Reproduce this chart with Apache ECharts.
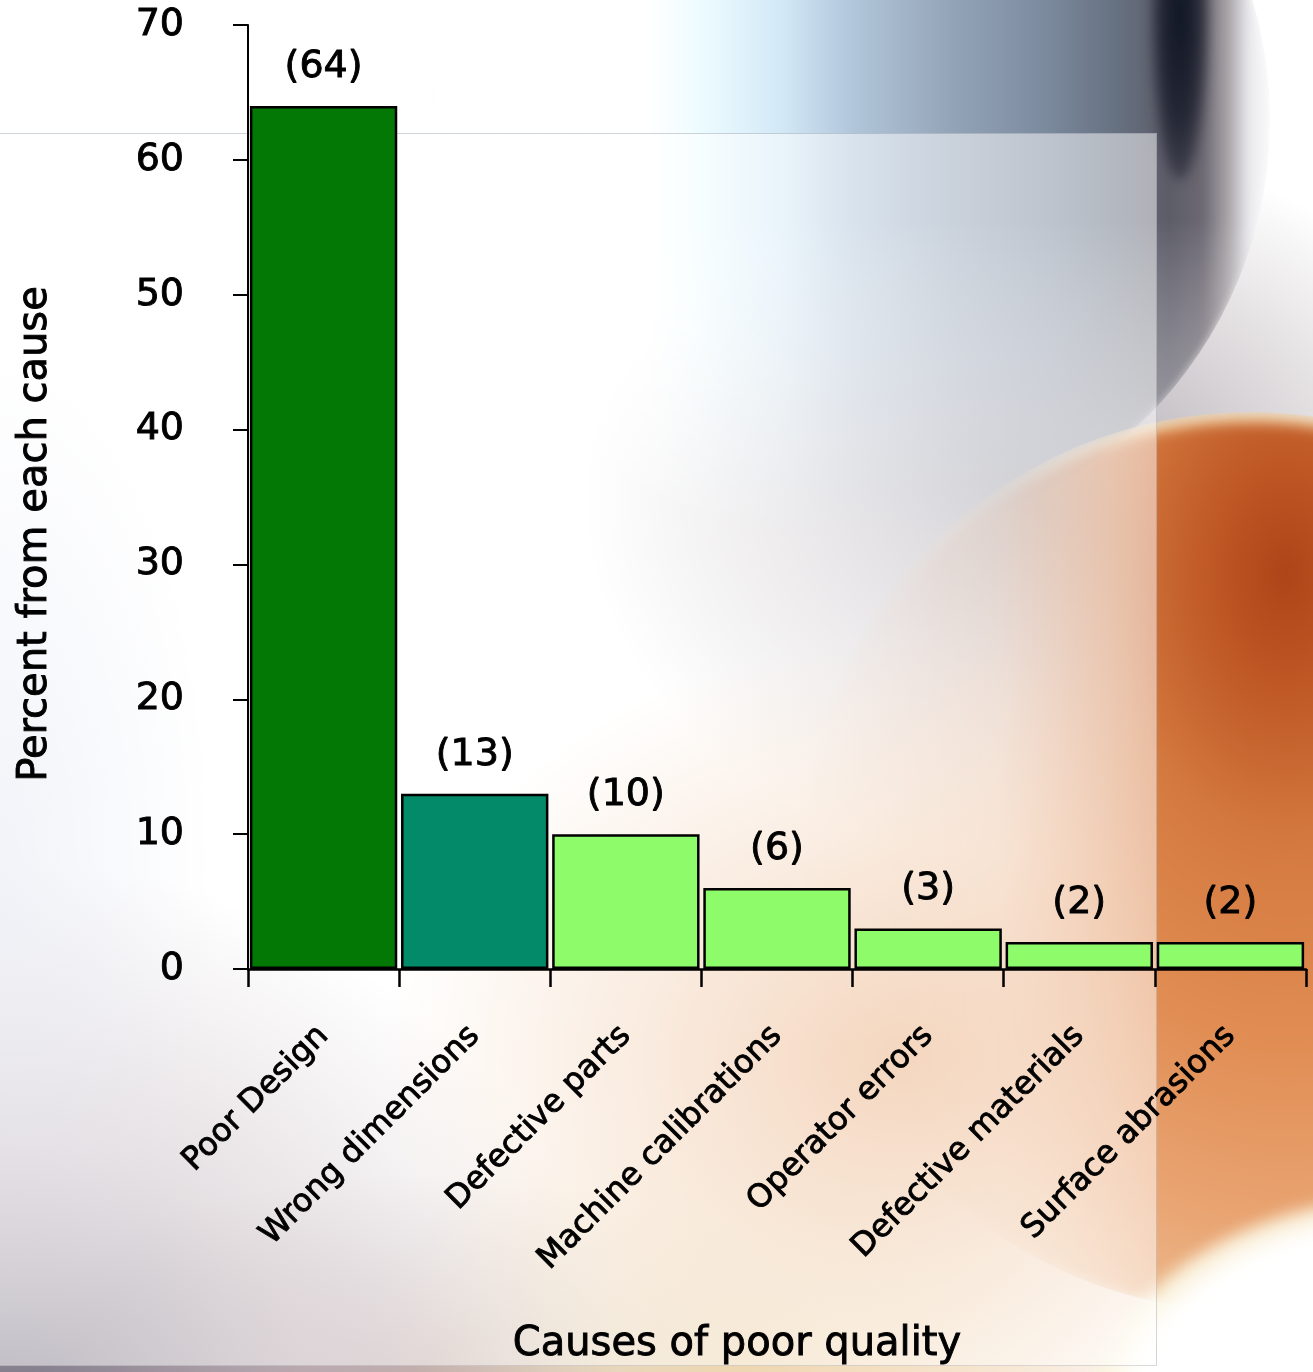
<!DOCTYPE html>
<html>
<head>
<meta charset="utf-8">
<title>Causes of poor quality</title>
<script src="https://cdn.jsdelivr.net/npm/echarts@6/dist/echarts.min.js"></script>
<style>
  html, body { margin: 0; padding: 0; background: #fff; }
  #stage { position: relative; width: 1313px; height: 1372px; overflow: hidden; }
  #bg { position: absolute; left: 0; top: 0; width: 1313px; height: 1372px; overflow: hidden; background: #fff; }
  #bg div { position: absolute; }
  .shade {
    left: 0; top: 0; width: 1313px; height: 1372px;
    background:
      radial-gradient(ellipse 220px 520px at 0px 860px, rgba(205,212,232,0.55) 0%, rgba(255,255,255,0) 100%),
      radial-gradient(ellipse 620px 560px at 0px 1420px, rgba(110,104,122,0.95) 0%, rgba(160,140,150,0.55) 50%, rgba(255,255,255,0) 100%),
      radial-gradient(ellipse 460px 360px at 1040px 500px, rgba(140,134,144,0.75) 0%, rgba(175,166,172,0.45) 55%, rgba(255,255,255,0) 100%),
      radial-gradient(ellipse 420px 200px at 420px 1372px, rgba(170,140,140,0.6) 0%, rgba(220,200,200,0) 100%);
  }
  .sphere {
    left: 430px; top: -300px; width: 840px; height: 840px; border-radius: 50%;
    background: linear-gradient(90deg,
      rgba(255,255,255,0) 0%, #ffffff 26%, #eefcff 32%, #d2e8f6 42%, #b2c7db 50%,
      #94a4b8 62%, #7a889c 74%, #66707f 82%, #5c5c68 88%, #6c6872 92%,
      #a8a4a8 95%, #ececef 97.6%, #f8f8f9 100%);
    -webkit-mask-image: linear-gradient(180deg, #000 0%, #000 62%, rgba(0,0,0,0.55) 82%, rgba(0,0,0,0) 100%);
    mask-image: linear-gradient(180deg, #000 0%, #000 62%, rgba(0,0,0,0.55) 82%, rgba(0,0,0,0) 100%);
    filter: blur(4px);
  }
  .rim {
    left: 430px; top: -300px; width: 840px; height: 840px; border-radius: 50%;
    background: radial-gradient(circle at 50% 50%, rgba(0,0,0,0) 0%, rgba(0,0,0,0) 86%,
      rgba(90,84,92,0.6) 91%, rgba(200,182,168,0.75) 94%, rgba(242,242,245,0.95) 97.5%, rgba(255,255,255,0.7) 100%);
    -webkit-mask-image: linear-gradient(90deg, rgba(0,0,0,0) 64%, #000 84%);
    mask-image: linear-gradient(90deg, rgba(0,0,0,0) 64%, #000 84%);
    filter: blur(3px);
  }
  .dark {
    left: 1152px; top: -150px; width: 56px; height: 330px; border-radius: 50%;
    background: radial-gradient(ellipse at 50% 50%, rgba(14,20,34,0.97) 0%, rgba(20,24,38,0.8) 45%, rgba(40,40,52,0) 100%);
    filter: blur(6px);
  }
  .glow {
    left: 0; top: 0; width: 1313px; height: 1372px;
    background:
      radial-gradient(ellipse 520px 420px at 900px 1060px, rgba(232,168,118,0.95) 0%, rgba(236,190,150,0.6) 50%, rgba(245,225,210,0) 100%),
      radial-gradient(ellipse 380px 260px at 740px 1360px, rgba(235,215,160,0.7) 0%, rgba(240,225,190,0) 100%);
  }
  .orange {
    left: 800px; top: 412px; width: 900px; height: 900px; border-radius: 50%;
    background: radial-gradient(ellipse at 54% 18%, #ad4418 0%, #c05a26 12%, #d47a40 26%,
      #e08c52 44%, #e9a472 62%, #eec39a 80%, rgba(242,215,175,0.6) 92%, rgba(245,225,190,0) 100%);
    box-shadow: inset 0 12px 10px -3px rgba(255,246,205,0.95);
    -webkit-mask-image: linear-gradient(90deg, rgba(0,0,0,0) 0%, rgba(0,0,0,0.25) 22%, #000 40%);
    mask-image: linear-gradient(90deg, rgba(0,0,0,0) 0%, rgba(0,0,0,0.25) 22%, #000 40%);
    filter: blur(6px);
  }
  .whiteout {
    left: 1090px; top: 1195px; width: 660px; height: 460px; border-radius: 50%;
    background: radial-gradient(ellipse at 50% 50%, #ffffff 0%, #ffffff 62%, rgba(240,225,160,0.75) 80%, rgba(240,225,160,0) 100%);
    filter: blur(8px);
  }
  .panel {
    left: 0; top: 133px; width: 1156px; height: 1231px;
    background: rgba(255,255,255,0.5);
    border-top: 1px solid rgba(120,130,150,0.35);
    border-right: 1px solid rgba(120,120,130,0.3);
    border-bottom: 1px solid rgba(140,140,150,0.3);
  }
  #chart { position: absolute; left: 0; top: 0; width: 1313px; height: 1372px; }
</style>
</head>
<body>
<div id="stage">
  <div id="bg">
    <div class="shade"></div>
    <div class="sphere"></div>
    <div class="rim"></div>
    <div class="dark"></div>
    <div class="glow"></div>
    <div class="orange"></div>
    <div class="whiteout"></div>
    <div class="panel"></div>
  </div>
  <div id="chart"></div>
</div>
<script>
// Pareto-style breakdown of quality problems
const categories = [
  'Poor Design', 'Wrong dimensions', 'Defective parts', 'Machine calibrations',
  'Operator errors', 'Defective materials', 'Surface abrasions'
];
const percents = [64, 13, 10, 6, 3, 2, 2];
const barColors = ['#047804', '#038a68', '#8efb6a', '#8efb6a', '#8efb6a', '#8efb6a', '#8efb6a'];

const yMin = 0;
const yMax = 70;
const yStep = 10;

const xTitle = 'Causes of poor quality';
const yTitle = 'Percent from each cause';

const FONT = '"DejaVu Sans", "Noto Sans", sans-serif';
// a hairline outline in the text colour gives the glyphs a slightly heavier stroke
const ink = { color: '#000', textBorderColor: '#000', textBorderWidth: 0.9 };

const chart = echarts.init(document.getElementById('chart'), null, { renderer: 'canvas' });

chart.setOption({
  backgroundColor: 'transparent',
  animation: false,
  textStyle: { fontFamily: FONT, color: '#000' },
  grid: { left: 248, right: 7, top: 25, bottom: 403, containLabel: false },
  xAxis: {
    type: 'category',
    data: categories,
    boundaryGap: true,
    axisLine: { show: true, lineStyle: { color: '#000', width: 2.5 } },
    axisTick: { show: true, length: 18, interval: 0, lineStyle: { color: '#000', width: 2.5 } },
    axisLabel: Object.assign({
      interval: 0, rotate: 45, margin: 62,
      fontFamily: FONT, fontSize: 32
    }, ink),
    splitLine: { show: false },
    name: xTitle,
    nameLocation: 'middle',
    nameGap: 356,
    nameTextStyle: Object.assign({ fontFamily: FONT, fontSize: 40, padding: [0, 80, 0, 0] }, ink)
  },
  yAxis: {
    type: 'value',
    min: yMin, max: yMax, interval: yStep,
    axisLine: { show: true, lineStyle: { color: '#000', width: 2 } },
    axisTick: { show: true, length: 15, lineStyle: { color: '#000', width: 2 } },
    axisLabel: Object.assign({ margin: 64, fontFamily: FONT, fontSize: 38 }, ink),
    splitLine: { show: false },
    name: yTitle,
    nameLocation: 'middle',
    nameGap: 192,
    nameTextStyle: Object.assign({ fontFamily: FONT, fontSize: 40, padding: [0, 74, 0, 0] }, ink)
  },
  series: [{
    type: 'bar',
    barCategoryGap: '2.5%',
    data: percents.map((v, i) => ({ value: v, itemStyle: { color: barColors[i] } })),
    itemStyle: { borderColor: '#000', borderWidth: 2.5 },
    label: Object.assign({
      show: true, position: 'top', distance: 20,
      formatter: p => '(' + p.value + ')',
      fontFamily: FONT, fontSize: 38
    }, ink)
  }]
});
</script>
</body>
</html>
